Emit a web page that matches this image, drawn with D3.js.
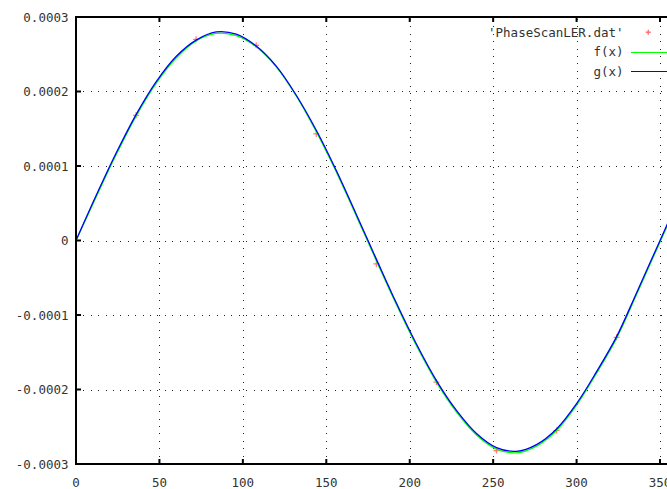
<!DOCTYPE html>
<meta charset="utf-8">
<style>
  body { margin: 0; background: #fff; }
  text { font-family: "DejaVu Sans Mono", monospace; font-size: 12.5px; fill: #333; }
</style>
<svg width="667" height="489"></svg>
<script src="https://cdn.jsdelivr.net/npm/d3@7"></script>
<script>
// data points ('PhaseScanLER.dat')
var phase = [0, 36, 72, 108, 144, 180, 216, 252, 288, 324];
var signal = [0, 0.000168, 0.000270, 0.000262, 0.000143, -0.0000315, -0.000190, -0.000282, -0.000255, -0.000130];

// fitted curves, sampled by eye every 12 units (in 1e-4)
var curveX = [0, 12, 24, 36, 48, 60, 72, 84, 96, 108, 120, 132, 144, 156, 168, 180,
              192, 204, 216, 228, 240, 252, 264, 276, 288, 300, 312, 324, 336, 348, 360];
var gVals = [0, 0.60, 1.17, 1.69, 2.13, 2.47, 2.69, 2.80, 2.77, 2.61, 2.34, 1.95, 1.48, 0.94, 0.35, -0.25,
             -0.84, -1.39, -1.88, -2.28, -2.59, -2.78, -2.83, -2.74, -2.53, -2.19, -1.76, -1.29, -0.70, -0.10, 0.50];
var fVals = [0, 0.58, 1.15, 1.67, 2.11, 2.45, 2.68, 2.78, 2.75, 2.60, 2.33, 1.94, 1.46, 0.92, 0.33, -0.27,
             -0.86, -1.41, -1.90, -2.30, -2.61, -2.80, -2.85, -2.76, -2.55, -2.21, -1.78, -1.31, -0.72, -0.12, 0.48];

var xTicks = [0, 50, 100, 150, 200, 250, 300, 350];
var xTickLabels = ["0", "50", "100", "150", "200", "250", "300", "350"];
var yTicks = [0.0003, 0.0002, 0.0001, 0, -0.0001, -0.0002, -0.0003];
var yTickLabels = ["0.0003", "0.0002", "0.0001", "0", "-0.0001", "-0.0002", "-0.0003"];

var legendNames = ["'PhaseScanLER.dat'", "f(x)", "g(x)"];
var colors = ["#ff4040", "#00ff00", "#0000ff"];

var svg = d3.select("svg");
var pLeft = 76, pTop = 17, pBottom = 464, pRight = 676.7;

var x = d3.scaleLinear().domain([0, 360]).range([pLeft, pRight]);
var y = d3.scaleLinear().domain([-0.0003, 0.0003]).range([pBottom, pTop]);

// grid (dotted)
var grid = svg.append("g").attr("stroke", "#222").attr("stroke-width", 1)
    .attr("stroke-dasharray", "1,6.4").attr("shape-rendering", "crispEdges");
xTicks.slice(1).forEach(function(t) {
  grid.append("line").attr("x1", Math.round(x(t)) + 0.5).attr("x2", Math.round(x(t)) + 0.5)
      .attr("y1", pBottom).attr("y2", pTop);
});
yTicks.slice(1, -1).forEach(function(t) {
  grid.append("line").attr("y1", Math.round(y(t)) + 0.5).attr("y2", Math.round(y(t)) + 0.5)
      .attr("x1", pLeft).attr("x2", pRight);
});

// clip for the curves
svg.append("clipPath").attr("id", "clip").append("rect")
    .attr("x", pLeft).attr("y", pTop).attr("width", pRight - pLeft).attr("height", pBottom - pTop);

var plot = svg.append("g").attr("clip-path", "url(#clip)");

// data points as '+'
plot.selectAll(".pt").data(phase).enter().append("path")
    .attr("class", "pt")
    .attr("d", function(d, i) {
      var px = x(d), py = y(signal[i]);
      return "M" + (px - 3) + "," + py + "H" + (px + 3) + "M" + px + "," + (py - 3) + "V" + (py + 3);
    })
    .attr("stroke", colors[0]).attr("stroke-width", 1.2).attr("opacity", 0.7).attr("fill", "none");

var line = function(vals) {
  return d3.line()
    .x(function(d, i) { return x(curveX[i]); })
    .y(function(d) { return y(d * 1e-4); })
    .curve(d3.curveCatmullRom)(vals);
};

plot.append("path").attr("d", line(fVals)).attr("fill", "none")
    .attr("stroke", colors[1]).attr("stroke-width", 1.3);
plot.append("path").attr("d", line(gVals)).attr("fill", "none")
    .attr("stroke", colors[2]).attr("stroke-width", 1.3);

// border
svg.append("path")
    .attr("d", "M" + pRight + "," + pTop + "H" + pLeft + "V" + pBottom + "H" + pRight)
    .attr("fill", "none").attr("stroke", "#000").attr("stroke-width", 2);

// ticks (inward, mirrored)
var ticks = svg.append("g").attr("stroke", "#000").attr("stroke-width", 2);
xTicks.slice(1).forEach(function(t) {
  ticks.append("line").attr("x1", x(t)).attr("x2", x(t)).attr("y1", pBottom).attr("y2", pBottom - 5);
  ticks.append("line").attr("x1", x(t)).attr("x2", x(t)).attr("y1", pTop).attr("y2", pTop + 5);
});
yTicks.forEach(function(t) {
  ticks.append("line").attr("y1", y(t)).attr("y2", y(t)).attr("x1", pLeft).attr("x2", pLeft + 5);
});

// tick labels
svg.selectAll(".xl").data(xTicks).enter().append("text")
    .attr("x", function(d) { return x(d); }).attr("y", 487)
    .attr("text-anchor", "middle")
    .text(function(d, i) { return xTickLabels[i]; });
svg.selectAll(".yl").data(yTicks).enter().append("text")
    .attr("x", 68.5).attr("y", function(d) { return y(d) + 4.5; })
    .attr("text-anchor", "end")
    .text(function(d, i) { return yTickLabels[i]; });

// legend
var legY = [32.3, 51.7, 71];
legendNames.forEach(function(name, i) {
  svg.append("text").attr("x", 623.5).attr("y", legY[i] + 4.5).attr("text-anchor", "end").text(name);
  if (i === 0) {
    var px = 648.3, py = legY[i];
    svg.append("path")
      .attr("d", "M" + (px - 2.5) + "," + py + "H" + (px + 2.5) + "M" + px + "," + (py - 2.5) + "V" + (py + 2.5))
      .attr("stroke", colors[0]).attr("stroke-width", 1.5).attr("opacity", 0.7);
  } else {
    svg.append("line").attr("x1", 631).attr("x2", 667).attr("y1", Math.round(legY[i]) + 0.5).attr("y2", Math.round(legY[i]) + 0.5)
      .attr("stroke", colors[i]).attr("stroke-width", 1);
  }
});
</script>
